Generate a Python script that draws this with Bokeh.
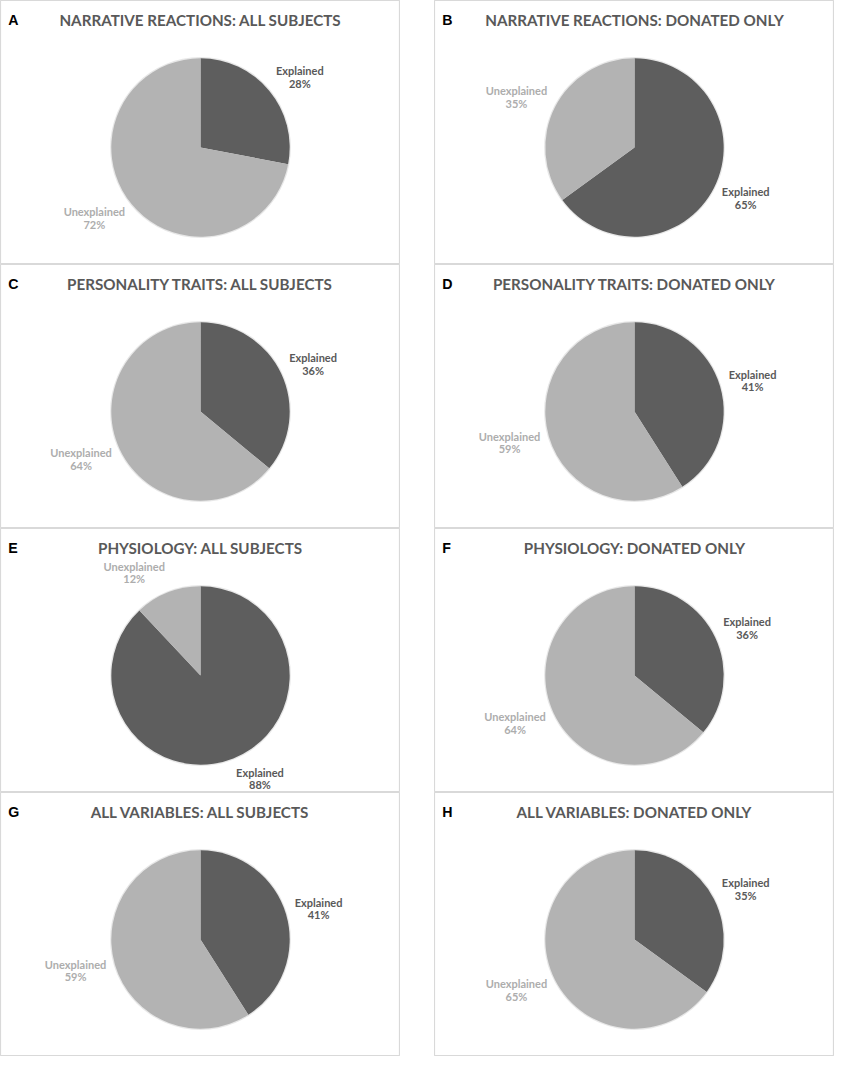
import math
from bokeh.plotting import figure
from bokeh.layouts import row, column
from bokeh.models import Range1d, ColumnDataSource, Spacer
from bokeh.core.properties import value
from bokeh.embed import file_html
from bokeh.resources import INLINE

# ---- data ----
letters = ["A", "B", "C", "D", "E", "F", "G", "H"]
titles = [
    "NARRATIVE REACTIONS: ALL SUBJECTS",
    "NARRATIVE REACTIONS: DONATED ONLY",
    "PERSONALITY TRAITS: ALL SUBJECTS",
    "PERSONALITY TRAITS: DONATED ONLY",
    "PHYSIOLOGY: ALL SUBJECTS",
    "PHYSIOLOGY: DONATED ONLY",
    "ALL VARIABLES: ALL SUBJECTS",
    "ALL VARIABLES: DONATED ONLY",
]
categories = ["Explained", "Unexplained"]
explained = [28, 65, 36, 41, 88, 36, 41, 35]
unexplained = [72, 35, 64, 59, 12, 64, 59, 65]

# ---- style ----
S = 0.98
PW, PH, GAP = 400, 264, 34
SLICE_COLORS = ["#5e5e5e", "#b3b3b3"]
LABEL_COLORS = ["#595959", "#adadad"]
LABEL_W = {"Explained": 47 * S, "Unexplained": 61 * S}


def make_panel(letter, title, vals):
    p = figure(width=PW, height=PH, x_range=Range1d(0, PW), y_range=Range1d(0, PH),
               x_axis_type=None, y_axis_type=None, toolbar_location=None,
               output_backend="svg", min_border=0)
    p.outline_line_color = "#d9d9d9"
    p.outline_line_width = 1.2
    p.background_fill_color = "white"
    p.border_fill_color = "white"

    cx, cy, r = PW / 2, PH - 150 * S, 91 * S
    total = float(sum(vals))
    fr = [v / total for v in vals]
    t0 = [0.0, fr[0]]
    t1 = [fr[0], 1.0]
    # clockwise from 12 o'clock -> bokeh angles
    start = [math.pi / 2 - 2 * math.pi * b for b in t1]
    end = [math.pi / 2 - 2 * math.pi * a for a in t0]

    # soft edge
    p.wedge(x=cx, y=cy, radius=r + 1.2, start_angle=0, end_angle=2 * math.pi,
            fill_color="#cfcfcf", fill_alpha=0.5, line_color=None)
    src = ColumnDataSource(dict(x=[cx, cx], y=[cy, cy], start=start, end=end,
                                color=SLICE_COLORS))
    p.wedge(x="x", y="y", radius=r, start_angle="start", end_angle="end",
            direction="anticlock", fill_color="color", line_color=None, source=src)

    # labels
    g = 10 * S
    h = 24 * S
    lx, ly1, ly2, names, pcts, cols = [], [], [], [], [], []
    for i, cat in enumerate(categories):
        th = 2 * math.pi * (t0[i] + t1[i]) / 2
        ax = cx + (r + g) * math.sin(th)
        ay = cy + (r + g) * math.cos(th)
        k = max(-1.0, min(1.0, 3 * math.sin(th)))
        bx = ax + k * LABEL_W[cat] / 2
        by = ay + (h / 2) * math.cos(th)
        lx.append(bx)
        ly1.append(by + 6.5 * S)
        ly2.append(by - 6.5 * S)
        names.append(cat)
        pcts.append(f"{vals[i]}%")
        cols.append(LABEL_COLORS[i])
    lsrc = ColumnDataSource(dict(x=lx, y1=ly1, y2=ly2, n=names, pc=pcts, c=cols))
    for yy, tt in (("y1", "n"), ("y2", "pc")):
        p.text(x="x", y=yy, text=tt, source=lsrc, text_color="c",
               text_font=value("Lato"), text_font_style="bold",
               text_font_size=f"{11.2 * S:.1f}px", text_align="center",
               text_baseline="middle")

    p.text(x=[PW / 2], y=[PH - 20 * S], text=[title], text_color="#595959",
           text_font=value("Lato"), text_font_style="bold",
           text_font_size=f"{15.5 * S:.1f}px", text_align="center",
           text_baseline="middle")
    p.text(x=[8 * S], y=[PH - 20 * S], text=[letter], text_color="#000000",
           text_font=value("Liberation Sans"), text_font_style="bold",
           text_font_size=f"{14.5 * S:.1f}px", text_align="left",
           text_baseline="middle")
    return p


panels = [make_panel(letters[i], titles[i], [explained[i], unexplained[i]])
          for i in range(8)]
left = column(*[panels[i] for i in (0, 2, 4, 6)])
right = column(*[panels[i] for i in (1, 3, 5, 7)])
layout = row(left, Spacer(width=GAP, height=10), right)

open("out.html", "w").write(file_html(layout, INLINE))
